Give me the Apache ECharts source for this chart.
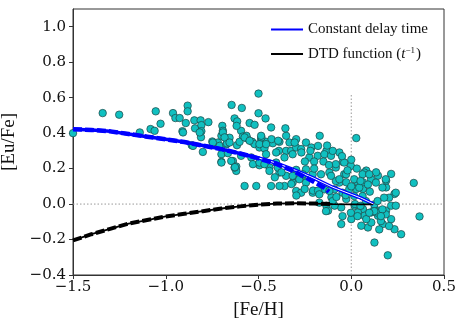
<!DOCTYPE html>
<html>
<head>
<meta charset="utf-8">
<script src="https://cdn.jsdelivr.net/npm/echarts@6/dist/echarts.min.js"></script>
<style>
  html, body { margin: 0; padding: 0; background: #fff; }
  #box { width: 464px; height: 326px; }
</style>
</head>
<body>
<div id="box"></div>
<script>
// star sample: [Fe/H], [Eu/Fe]
var stars = [
  [-1.50,0.40],[-1.34,0.513],[-1.251,0.504],[-1.14,0.404],[-1.082,0.423],[-1.054,0.523],[-1.06,0.413],
  [-1.028,0.453],[-0.961,0.513],[-0.948,0.485],[-0.925,0.485],[-0.91,0.411],[-0.892,0.457],[-0.882,0.555],
  [-0.882,0.523],[-0.86,0.332],[-0.846,0.472],[-0.842,0.427],[-0.812,0.472],[-0.808,0.445],[-0.808,0.411],
  [-0.81,0.377],[-0.80,0.294],[-0.77,0.462],[-0.749,0.353],[-0.719,0.347],[-0.695,0.441],[-0.692,0.413],
  [-0.70,0.385],[-0.71,0.328],[-0.70,0.281],[-0.645,0.559],[-0.663,0.37],[-0.674,0.336],
  [-0.907,0.404],[-0.817,0.404],[-0.853,0.328],[-0.746,0.347],[-0.70,0.238],[-0.665,0.287],[-0.638,0.243],
  [-0.62,0.212],[-0.62,0.187],[-0.656,0.374],[-0.67,0.342],[-0.616,0.332],[-0.59,0.542],[-0.629,0.483],
  [-0.615,0.466],[-0.548,0.457],[-0.521,0.447],[-0.50,0.623],[-0.50,0.512],[-0.462,0.483],[-0.432,0.432],
  [-0.594,0.413],[-0.584,0.381],[-0.561,0.37],[-0.602,0.351],[-0.534,0.351],[-0.521,0.338],[-0.486,0.366],
  [-0.459,0.351],[-0.495,0.319],[-0.468,0.314],[-0.423,0.343],[-0.387,0.351],[-0.351,0.385],[-0.355,0.427],
  [-0.39,0.30],[-0.351,0.30],[-0.324,0.30],[-0.297,0.319],[-0.27,0.31],[-0.244,0.347],[-0.333,0.347],
  [-0.297,0.366],[-0.495,0.219],[-0.441,0.206],[-0.405,0.234],[-0.387,0.178],[-0.351,0.159],[-0.297,0.193],
  [-0.289,0.149],[-0.262,0.159],[-0.244,0.196],[-0.575,0.102],[-0.512,0.102],[-0.432,0.102],[-0.36,0.102],
  [-0.316,0.121],[-0.618,0.441],[-0.17,0.385],[0.027,0.372],[-0.565,0.385],[-0.484,0.376],[-0.43,0.366],
  [-0.394,0.357],[-0.305,0.347],[-0.215,0.319],[-0.179,0.328],[-0.134,0.30],[-0.269,0.291],[-0.045,0.238],
  [-0.692,0.404],[-0.683,0.376],[-0.656,0.347],[-0.70,0.234],[-0.647,0.243],[-0.629,0.206],[-0.575,0.376],
  [-0.548,0.357],[-0.495,0.338],[-0.486,0.385],[-0.459,0.338],[-0.594,0.272],[-0.539,0.263],[-0.53,0.225],
  [-0.495,0.234],[-0.468,0.225],[-0.459,0.281],[-0.405,0.291],[-0.36,0.263],[-0.316,0.281],[-0.226,0.263],
  [-0.181,0.272],[-0.145,0.281],[-0.109,0.272],[-0.064,0.291],[-0.038,0.234],[-0.083,0.206],[-0.118,0.178],
  [-0.163,0.168],[-0.208,0.168],[-0.244,0.121],[-0.28,0.14],[-0.316,0.159],[-0.297,0.074],[-0.27,0.064],
  [-0.208,0.064],[-0.145,0.083],[-0.091,0.083],[-0.064,0.121],[-0.038,0.168],[-0.083,0.13],[-0.396,0.206],
  [-0.441,0.187],[-0.387,0.102],[-0.323,0.113],[-0.627,0.208],[-0.412,0.151],[-0.376,0.179],[-0.296,0.048],
  [-0.206,0.076],[-0.134,-0.009],[-0.125,-0.037],[-0.054,-0.113],[0.0,-0.085],[0.018,-0.009],[0.063,-0.028],
  [0.071,-0.066],[0.09,-0.132],[0.125,-0.217],[0.197,-0.289],[0.108,-0.104],[0.144,-0.066],[0.17,-0.113],
  [0.215,-0.085],[0.233,-0.142],[0.269,-0.17],[0.144,-0.037],[0.188,-0.037],[0.215,-0.009],[0.233,0.057],
  [0.24,-0.009],[0.188,0.094],[0.215,0.17],[0.188,0.132],[0.337,0.119],[0.368,-0.07],[0.144,0.16],
  [0.081,0.189],[0.134,0.179],[0.063,0.085],[0.027,0.085],[-0.027,0.123],[-0.027,0.028],[0.036,0.123],
  [0.063,0.123],[0.081,-0.085],[0.054,-0.122],[0.036,-0.047],[0.108,-0.047],[0.125,-0.028],[-0.054,-0.019],
  [-0.09,-0.009],[-0.251,0.085],[-0.179,0.076],[-0.107,0.038],[-0.083,0.225],[-0.002,0.215],[0.07,0.178],
  [0.186,0.14],[0.106,0.14],[0.24,0.064],[0.204,0.036],[0.16,-0.096],[0.204,-0.124],[0.151,-0.143],
  [0.079,0.017],[0.124,-0.002],[0.142,-0.049],[0.186,-0.058],[-0.262,0.168],[-0.109,0.159],[-0.064,0.14],
  [-0.028,0.168],[0.016,0.14],[0.061,0.168],[0.097,0.168],[0.133,0.121],[0.168,0.093],[0.043,0.093],
  [-0.011,0.083],[-0.047,0.064],[0.016,0.045],[0.061,0.045],[0.142,0.017],[0.177,0.036],[0.124,-0.04],
  [0.168,-0.03],[0.097,-0.049],[0.16,-0.068],[-0.136,-0.04],[-0.002,-0.049],[-0.172,0.055],[-0.118,0.074],
  [-0.1,0.017],[-0.172,0.008],[0.034,-0.068],[-0.047,-0.068],[-0.22,0.30],[-0.2,0.24],[-0.15,0.24],
  [-0.12,0.22],[-0.1,0.30],[-0.05,0.27],[-0.02,0.19],[0.03,0.2],[-0.25,0.24],[-0.13,0.33],[-0.2,0.2],
  [0.0,0.25],[0.05,0.13],[0.09,0.11],[0.0,0.1],[-0.03,0.05],[0.02,0.0],[0.05,-0.01],[-0.08,0.04],[0.1,0.07]
];

// model curves
var constFeH  = [-1.5,-1.4,-1.3,-1.2,-1.1,-1.0,-0.9,-0.8,-0.7,-0.6,-0.5,-0.4,-0.3,-0.2,-0.1,-0.05,0.0,0.05,0.1,0.12];
var constEuFe = [0.422,0.418,0.41,0.395,0.38,0.365,0.35,0.33,0.31,0.285,0.26,0.23,0.19,0.145,0.095,0.075,0.055,0.035,0.01,0.0];
// thin light track inside the solid curve (only visible once the dashed one splits off)
var innerFeH  = [-0.5,-0.4,-0.3,-0.2,-0.1,-0.05,0.0,0.05,0.1,0.12];
var innerEuFe = [0.26,0.23,0.19,0.145,0.095,0.075,0.055,0.035,0.01,0.0];
var constDashFeH  = [-1.5,-1.4,-1.3,-1.2,-1.1,-1.0,-0.9,-0.8,-0.7,-0.6,-0.5,-0.4,-0.3,-0.2,-0.15,-0.12];
var constDashEuFe = [0.422,0.418,0.41,0.395,0.38,0.365,0.35,0.33,0.31,0.285,0.258,0.225,0.18,0.125,0.095,0.07];
var dtdFeH  = [-1.5,-1.4,-1.3,-1.2,-1.1,-1.0,-0.9,-0.8,-0.7,-0.6,-0.5,-0.4,-0.3,-0.2,-0.1,0.0,0.1,0.12];
var dtdEuFe = [-0.205,-0.17,-0.14,-0.11,-0.09,-0.07,-0.055,-0.04,-0.025,-0.013,-0.003,0.003,0.005,0.003,0.0,-0.002,-0.002,0.0];
var dtdDashFeH  = [-1.5,-1.4,-1.3,-1.2,-1.1,-1.0,-0.9,-0.8,-0.7,-0.6,-0.5,-0.4,-0.3,-0.2,-0.1];
var dtdDashEuFe = [-0.205,-0.17,-0.14,-0.11,-0.09,-0.07,-0.055,-0.04,-0.025,-0.013,-0.003,0.003,0.005,0.003,0.0];

// dotted guides
var hGuide = [[-1.5,0],[0.5,0]];
var vGuide = [[0,-0.4],[0,0.62]];

var xTicks = [-1.5,-1.0,-0.5,0.0,0.5];
var yTicks = [-0.4,-0.2,0.0,0.2,0.4,0.6,0.8,1.0];

function zip(a, b){ return a.map(function(v,i){ return [v, b[i]]; }); }
function fmt(v){ return v.toFixed(1).replace('-', '\u2212'); }

var chart = echarts.init(document.getElementById('box'));
var serif = 'DejaVu Serif';
var times = 'Liberation Serif';

chart.setOption({
  animation: false,
  grid: { left: 73, right: 20, top: 9, bottom: 51, show: true, borderColor: '#333', borderWidth: 1, outerBoundsMode: 'none' },
  legend: {
    data: ['Constant delay time', 'DTD function'],
    orient: 'vertical',
    right: 31, top: 17,
    icon: 'rect', itemWidth: 32, itemHeight: 2, itemGap: 9,
    formatter: function(name){
      if (name === 'DTD function') return '{a|DTD function (}{i|t}{s|\u22121}{a|)}';
      return '{a|' + name + '}';
    },
    textStyle: {
      fontFamily: times, fontSize: 15, color: '#111',
      rich: {
        a: { fontFamily: times, fontSize: 15, color: '#111', lineHeight: 16 },
        i: { fontFamily: times, fontSize: 15, fontStyle: 'italic', color: '#111', lineHeight: 16 },
        s: { fontFamily: times, fontSize: 9, color: '#111', verticalAlign: 'top', lineHeight: 16, padding: [0,1,8,0] }
      }
    }
  },
  xAxis: {
    type: 'value', min: -1.5, max: 0.5, interval: 0.5,
    name: '[Fe/H]', nameLocation: 'middle', nameGap: 26,
    nameTextStyle: { fontFamily: times, fontSize: 19, color: '#111' },
    splitLine: { show: false },
    axisLine: { onZero: false, lineStyle: { color: '#333' } },
    axisTick: { inside: false, length: 4, lineStyle: { color: '#333' }, customValues: xTicks },
    axisLabel: { fontFamily: serif, fontSize: 15, color: '#111', margin: 5, formatter: fmt, customValues: xTicks }
  },
  yAxis: {
    type: 'value', min: -0.4, max: 1.1, interval: 0.2,
    name: '[Eu/Fe]', nameLocation: 'middle', nameGap: 48, nameRotate: 90,
    nameTextStyle: { fontFamily: times, fontSize: 19, color: '#111' },
    splitLine: { show: false },
    axisLine: { onZero: false, lineStyle: { color: '#333' } },
    axisTick: { inside: false, length: 4, lineStyle: { color: '#333' }, customValues: yTicks },
    axisLabel: { fontFamily: serif, fontSize: 15, color: '#111', margin: 7, formatter: fmt, customValues: yTicks }
  },
  series: [
    { type: 'line', name: 'hguide', data: hGuide, symbol: 'none', silent: true, z: 1,
      lineStyle: { color: '#999', width: 1, type: [1.5, 2] } },
    { type: 'line', name: 'vguide', data: vGuide, symbol: 'none', silent: true, z: 1,
      lineStyle: { color: '#999', width: 1, type: [1.5, 2] } },
    { type: 'scatter', name: 'stars', data: stars, symbolSize: 7.5, z: 2,
      itemStyle: { color: '#10c0c0', borderColor: '#1f4444', borderWidth: 0.7, opacity: 1 } },
    { type: 'line', name: 'Constant delay time', data: zip(constFeH, constEuFe), symbol: 'none', z: 3,
      itemStyle: { color: '#0000ff' }, lineStyle: { color: '#0000ff', width: 3.5 } },
    { type: 'line', name: 'const-inner', data: zip(innerFeH, innerEuFe), symbol: 'none', z: 4,
      lineStyle: { color: '#ffffff', width: 1 } },
    { type: 'line', name: 'const-dash', data: zip(constDashFeH, constDashEuFe), symbol: 'none', z: 5,
      lineStyle: { color: '#0000ff', width: 4.5, type: [9, 3] } },
    { type: 'line', name: 'DTD function', data: zip(dtdFeH, dtdEuFe), symbol: 'none', z: 3,
      itemStyle: { color: '#000' }, lineStyle: { color: '#000', width: 1.8 } },
    { type: 'line', name: 'dtd-dash', data: zip(dtdDashFeH, dtdDashEuFe), symbol: 'none', z: 5,
      lineStyle: { color: '#000', width: 4, type: [9, 3] } }
  ]
});
</script>
</body>
</html>
